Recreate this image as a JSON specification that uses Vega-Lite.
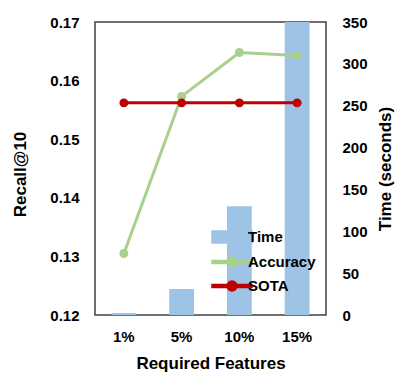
{
  "$schema": "https://vega.github.io/schema/vega-lite/v6.json",
  "width": 231,
  "height": 293,
  "autosize": "none",
  "padding": {"left": 95, "top": 22, "right": 81, "bottom": 66},
  "config": {
    "view": {"stroke": "#404040", "strokeWidth": 1.5},
    "font": "Liberation Sans",
    "axis": {
      "grid": false, "ticks": false, "domain": false,
      "labelFont": "Liberation Sans", "labelFontWeight": "bold", "labelFontSize": 15, "labelColor": "#000",
      "titleFont": "Liberation Sans", "titleFontWeight": "bold", "titleFontSize": 17, "titleColor": "#000"
    }
  },
  "datasets": {
    "time": [
      {"feature": "1%", "time": 2.5},
      {"feature": "5%", "time": 31},
      {"feature": "10%", "time": 130},
      {"feature": "15%", "time": 350}
    ],
    "recall": [
      {"feature": "1%", "series": "Accuracy", "recall": 0.1305},
      {"feature": "5%", "series": "Accuracy", "recall": 0.1573},
      {"feature": "10%", "series": "Accuracy", "recall": 0.1648},
      {"feature": "15%", "series": "Accuracy", "recall": 0.1643},
      {"feature": "1%", "series": "SOTA", "recall": 0.1562},
      {"feature": "5%", "series": "SOTA", "recall": 0.1562},
      {"feature": "10%", "series": "SOTA", "recall": 0.1562},
      {"feature": "15%", "series": "SOTA", "recall": 0.1562}
    ]
  },
  "encoding": {
    "x": {
      "field": "feature", "type": "nominal", "sort": ["1%", "5%", "10%", "15%"],
      "scale": {"paddingInner": 0.57, "paddingOuter": 0.285},
      "axis": {"title": "Required Features", "labelAngle": 0, "labelPadding": 14, "titlePadding": 11}
    }
  },
  "layer": [
    {
      "data": {"name": "time"},
      "mark": {"type": "bar", "clip": true},
      "encoding": {
        "y": {
          "field": "time", "type": "quantitative",
          "scale": {"domain": [0, 350], "nice": false},
          "axis": {"orient": "right", "title": "Time (seconds)", "values": [0, 50, 100, 150, 200, 250, 300, 350], "labelPadding": 16, "titleAngle": -90, "titlePadding": 27}
        },
        "color": {"datum": "Time"}
      }
    },
    {
      "data": {"name": "recall"},
      "mark": {"type": "line", "strokeWidth": 3, "point": {"filled": true, "size": 80}},
      "encoding": {
        "y": {
          "field": "recall", "type": "quantitative",
          "scale": {"domain": [0.12, 0.17], "nice": false, "zero": false},
          "axis": {"orient": "left", "title": "Recall@10", "format": ".2f", "values": [0.12, 0.13, 0.14, 0.15, 0.16, 0.17], "labelPadding": 16, "titlePadding": 20, "titleY": 152}
        },
        "color": {
          "field": "series", "type": "nominal",
          "scale": {"domain": ["Time", "Accuracy", "SOTA"], "range": ["#9DC3E6", "#A9D18E", "#C00000"]},
          "legend": {
            "title": null, "orient": "none", "legendX": 126, "legendY": 204,
            "labelFont": "Liberation Sans", "labelFontWeight": "bold", "labelFontSize": 15, "labelColor": "#000",
            "symbolSize": 400, "labelOffset": 5, "rowPadding": 5,
            "encode": {
              "symbols": {
                "update": {
                  "shape": {"signal": "datum.value === 'Time' ? 'M-2,-0.6L2,-0.6L2,0.6L-2,0.6Z' : 'M-2,-0.15L2,-0.15L2,0.15L-2,0.15Z M0.5,0A0.5,0.5 0 1 1 -0.5,0A0.5,0.5 0 1 1 0.5,0Z'"},
                  "fill": {"signal": "scale('color', datum.value)"},
                  "stroke": {"value": "transparent"},
                  "opacity": {"value": 1},
                  "fillOpacity": {"value": 1}
                }
              }
            }
          }
        }
      }
    }
  ],
  "resolve": {"scale": {"y": "independent"}}
}
